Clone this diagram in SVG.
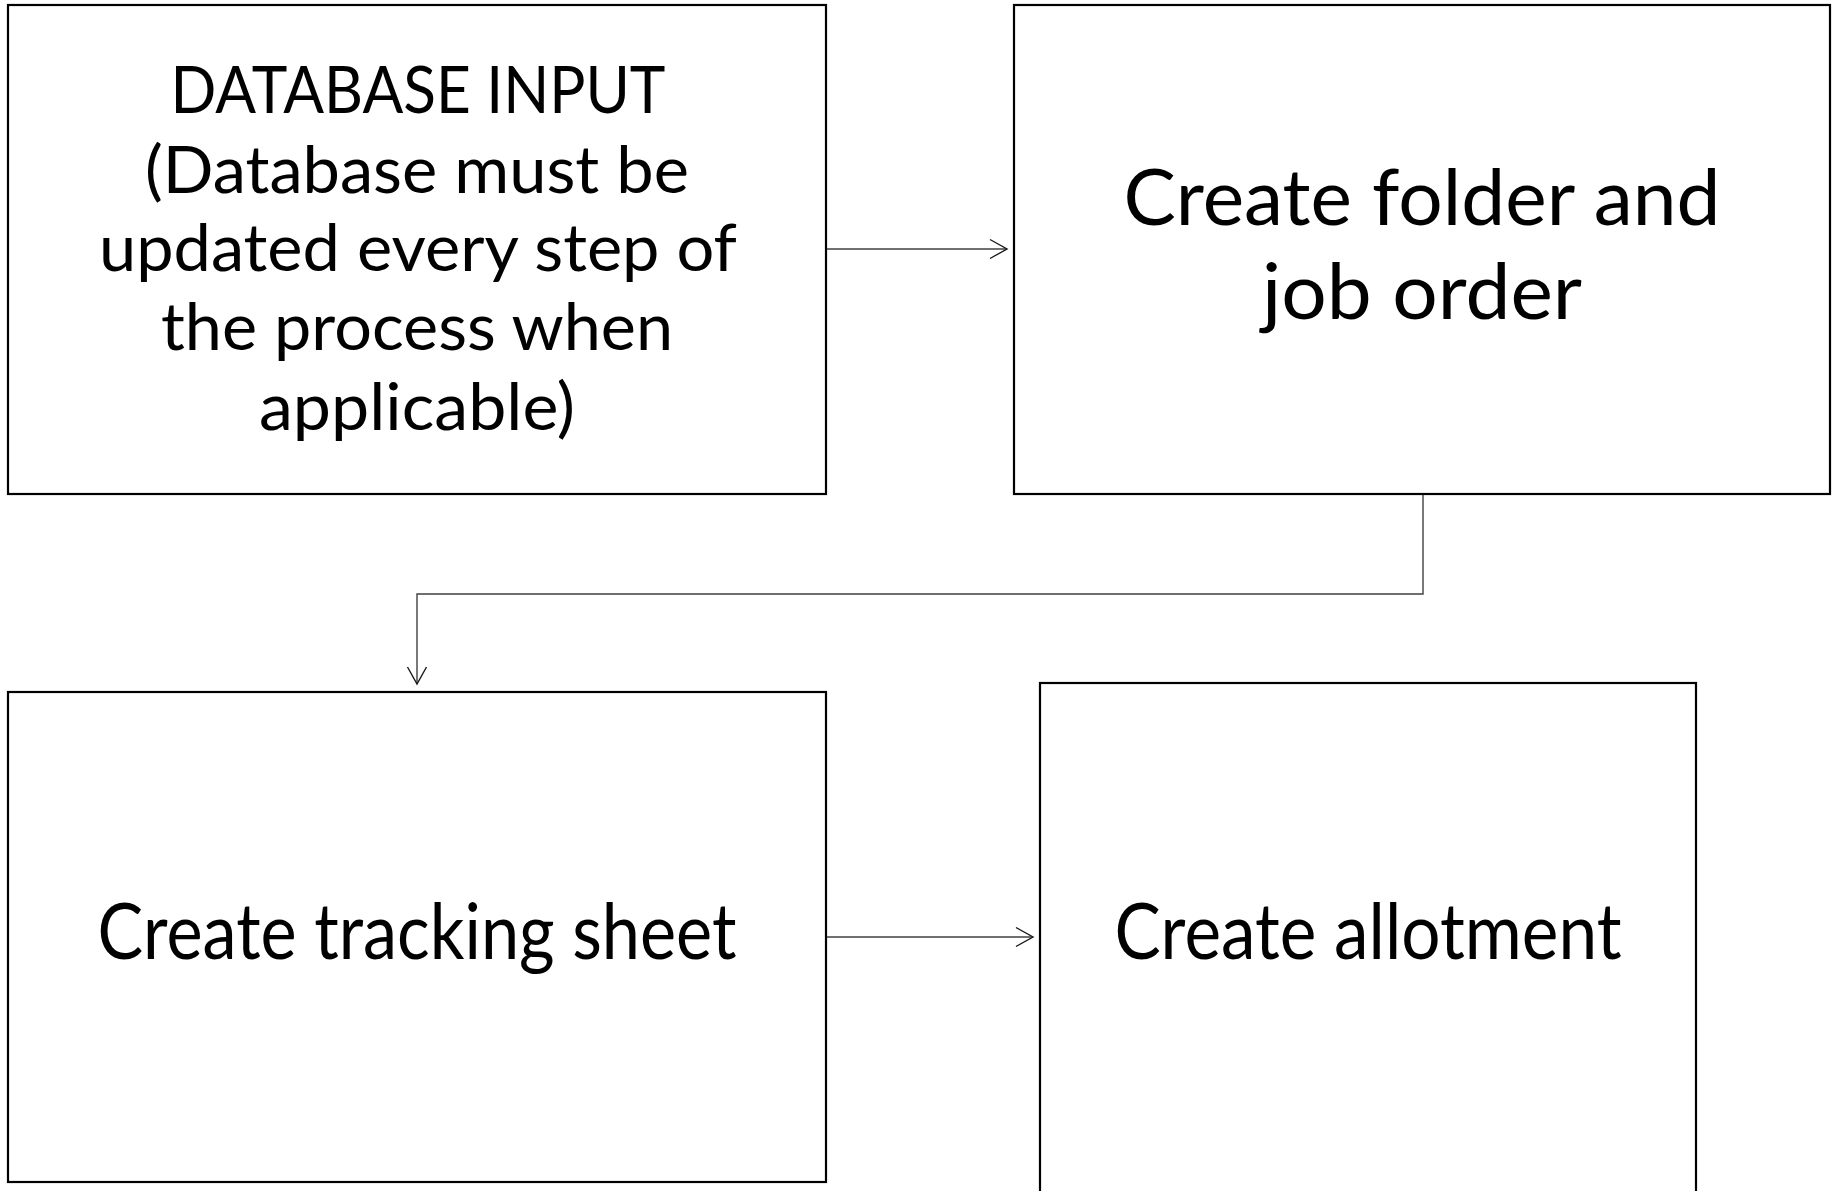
<svg xmlns="http://www.w3.org/2000/svg" width="1832" height="1191" viewBox="0 0 1832 1191">
  <defs>
    <!-- open V arrowhead used by all connectors -->
    <marker id="arrow" markerUnits="userSpaceOnUse" markerWidth="20" markerHeight="22" viewBox="0 0 20 22" refX="18" refY="11" orient="auto">
      <path d="M1,1.5 L18,11 L1,20.5" fill="none" stroke="#1a1a1a" stroke-width="1.4"/>
    </marker>
  </defs>
  <style>
    .box { fill: #ffffff; stroke: #000000; stroke-width: 2.2; }
    .lbl { font-family: Lato, "Open Sans", "Liberation Sans", sans-serif; fill: #000000; text-anchor: middle; }
    .conn { fill: none; stroke: #404040; stroke-width: 1.4; marker-end: url(#arrow); }
  </style>
  <rect width="1832" height="1191" fill="#ffffff"/>

  <g id="connectors">
    <path class="conn" d="M826,249 L1007,249"/>
    <path class="conn" d="M1423,495 L1423,594 L417,594 L417,684"/>
    <path class="conn" d="M826,937 L1033,937"/>
  </g>

  <g id="node-database-input">
    <rect class="box" x="8" y="5" width="818" height="489"/>
    <text class="lbl" font-size="66" x="418" y="113" textLength="495" lengthAdjust="spacingAndGlyphs">DATABASE INPUT</text>
    <text class="lbl" font-size="66" x="417" y="193" textLength="544" lengthAdjust="spacingAndGlyphs">(Database must be</text>
    <text class="lbl" font-size="66" x="418" y="271" textLength="638" lengthAdjust="spacingAndGlyphs">updated every step of</text>
    <text class="lbl" font-size="66" x="417" y="350" textLength="512" lengthAdjust="spacingAndGlyphs">the process when</text>
    <text class="lbl" font-size="66" x="417" y="430" textLength="316" lengthAdjust="spacingAndGlyphs">applicable)</text>
  </g>

  <g id="node-folder-job-order">
    <rect class="box" x="1014" y="5" width="816" height="489"/>
    <text class="lbl" font-size="78" x="1422" y="225" textLength="597" lengthAdjust="spacingAndGlyphs">Create folder and</text>
    <text class="lbl" font-size="78" x="1422" y="319" textLength="320" lengthAdjust="spacingAndGlyphs">job order</text>
  </g>

  <g id="node-tracking-sheet">
    <rect class="box" x="8" y="692" width="818" height="490"/>
    <text class="lbl" font-size="78" x="417" y="959" textLength="639" lengthAdjust="spacingAndGlyphs">Create tracking sheet</text>
  </g>

  <g id="node-allotment">
    <rect class="box" x="1040" y="683" width="656" height="530"/>
    <text class="lbl" font-size="78" x="1368" y="959" textLength="507" lengthAdjust="spacingAndGlyphs">Create allotment</text>
  </g>
</svg>
